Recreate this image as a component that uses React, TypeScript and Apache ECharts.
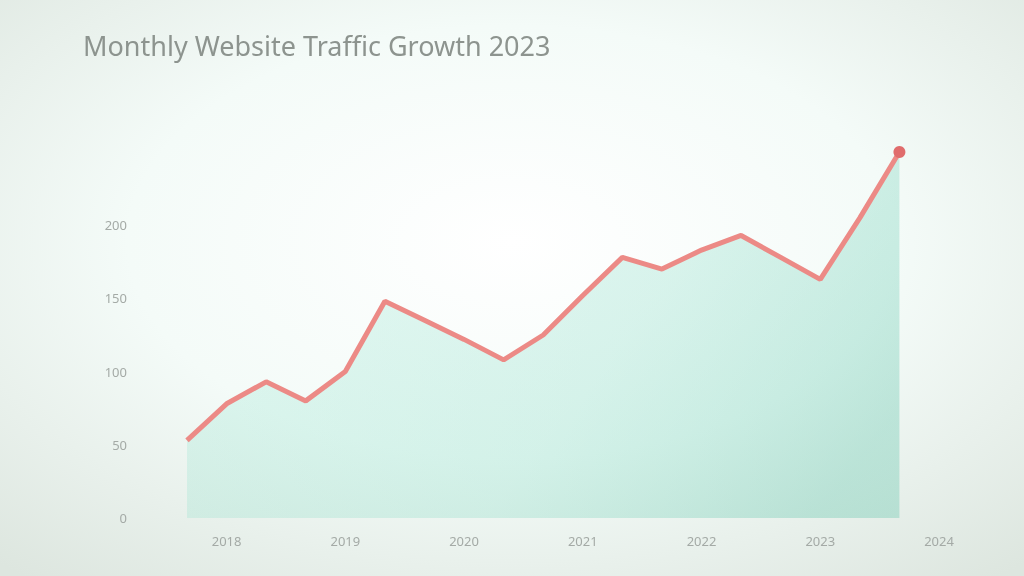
import React, { useEffect, useRef } from "react";
import * as echarts from "echarts";

const TITLE = "Monthly Website Traffic Growth 2023";

const categories = [
  "Sep 2017", "Jan 2018", "May 2018", "Sep 2018", "Jan 2019", "May 2019", "Sep 2019",
  "Jan 2020", "May 2020", "Sep 2020", "Jan 2021", "May 2021", "Sep 2021", "Jan 2022",
  "May 2022", "Sep 2022", "Jan 2023", "May 2023", "Sep 2023", "Jan 2024",
];

const visitors: (number | null)[] = [
  53, 78, 93, 80, 100, 148, 135, 122, 108, 125,
  152, 178, 170, 183, 193, 178, 163, 205, 250, null,
];

const yTicks = { min: 0, max: 250, interval: 50 };

export default function App() {
  const ref = useRef<HTMLDivElement>(null);

  useEffect(() => {
    if (!ref.current) return;
    const chart = echarts.init(ref.current, undefined, { renderer: "svg" });
    const lastIdx = visitors.reduce((acc: number, v, i) => (v != null ? i : acc), 0);
    chart.setOption({
      animation: false,
      backgroundColor: new echarts.graphic.RadialGradient(0.5, 0.42, 0.75, [
        { offset: 0, color: "#ffffff" },
        { offset: 0.5, color: "#f4fbf8" },
        { offset: 1, color: "#dde6df" },
      ]),
      title: {
        text: TITLE,
        left: 78,
        top: 27,
        textStyle: {
          fontFamily: "Noto Sans",
          fontSize: 27,
          fontWeight: "normal",
          color: "#8d948f",
        },
      },
      grid: { left: 187, right: 85, top: 152, bottom: 58 },
      xAxis: {
        type: "category",
        boundaryGap: false,
        data: categories,
        axisLine: { show: false },
        axisTick: { show: false },
        axisLabel: {
          interval: (i: number) => i % 3 === 1,
          formatter: (v: string) => v.split(" ")[1],
          color: "#a4aaa6",
          fontFamily: "Noto Sans",
          fontSize: 13,
          margin: 16,
        },
        splitLine: { show: false },
      },
      yAxis: {
        type: "value",
        min: yTicks.min,
        max: yTicks.max,
        interval: yTicks.interval,
        axisLine: { show: false },
        axisTick: { show: false },
        splitLine: { show: false },
        axisLabel: {
          showMaxLabel: false,
          color: "#a4aaa6",
          fontFamily: "Noto Sans",
          fontSize: 13,
          margin: 60,
        },
      },
      series: [
        {
          type: "line",
          data: visitors.map((v, i) =>
            i === lastIdx
              ? { value: v, symbol: "circle", symbolSize: 12, itemStyle: { color: "#e06c6c" } }
              : v
          ),
          showSymbol: true,
          symbol: "none",
          lineStyle: { color: "#ec8a86", width: 5 },
          itemStyle: { color: "#ec8a86" },
          areaStyle: {
            color: new echarts.graphic.LinearGradient(0, 0.3, 1, 0.7, [
              { offset: 0, color: "rgba(140,228,205,0.32)" },
              { offset: 0.6, color: "rgba(120,215,190,0.38)" },
              { offset: 1, color: "rgba(90,195,168,0.48)" },
            ]),
          },
        },
      ],
    });
    return () => chart.dispose();
  }, []);

  return (
    <div
      ref={ref}
      style={{ position: "fixed", left: 0, top: 0, width: 1024, height: 576 }}
    />
  );
}
